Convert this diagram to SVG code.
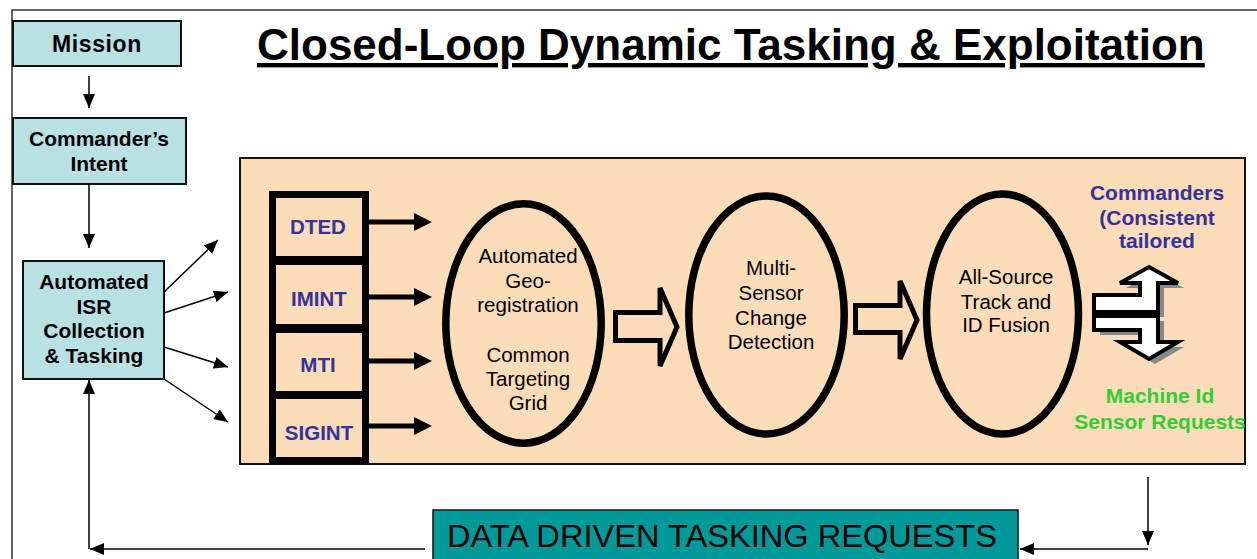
<svg xmlns="http://www.w3.org/2000/svg" width="1257" height="559" viewBox="0 0 1257 559">
<defs>
<style>
.frame{fill:none;stroke:#333;stroke-width:1.5}
.blue{fill:#b9e0e3;stroke:#111;stroke-width:2}
.lbl{font-family:"Liberation Sans",Arial,sans-serif;font-weight:bold;font-size:21px;fill:#000;text-anchor:middle}
.sens{fill:#fddcb9;stroke:#000;stroke-width:7}
.stxt{font-family:"Liberation Sans",Arial,sans-serif;font-weight:bold;font-size:20.5px;fill:#333399;text-anchor:middle}
.rtxt{font-family:"Liberation Sans",Arial,sans-serif;font-weight:bold;font-size:21px;text-anchor:middle}
.ell{fill:none;stroke:#000;stroke-width:7.5}
.etxt{font-family:"Liberation Sans",Arial,sans-serif;font-size:20.5px;fill:#000;text-anchor:middle}
.thin{fill:none;stroke:#000;stroke-width:1.5}
.thick{fill:none;stroke:#000;stroke-width:5}
.hollow{fill:#fddcb9;stroke:#000;stroke-width:5;stroke-linejoin:miter}
</style>
<marker id="ah" markerUnits="userSpaceOnUse" markerWidth="14" markerHeight="12" refX="14" refY="6" orient="auto">
<path d="M0,0 L14,6 L0,12 z" fill="#000"/>
</marker>
<marker id="bh" markerUnits="userSpaceOnUse" markerWidth="18" markerHeight="18" refX="0" refY="9" orient="auto">
<path d="M0,0 L18,9 L0,18 z" fill="#000"/>
</marker>
</defs>

<g id="frame">
<polyline class="frame" points="12,559 12,10 1257,10"/>
</g>

<g id="title">
<text x="257" y="60" font-family="Liberation Sans, Arial, sans-serif" font-weight="bold" font-size="44" text-decoration="underline" fill="#000">Closed-Loop Dynamic Tasking &amp; Exploitation</text>
</g>

<g id="mission">
<rect class="blue" x="13" y="21" width="168" height="45"/>
<text class="lbl" x="97" y="52" style="font-size:23px;letter-spacing:0.6px">Mission</text>
</g>

<g id="commanders-intent">
<rect class="blue" x="13" y="118" width="173" height="66"/>
<text class="lbl" x="99" y="146">Commander’s</text>
<text class="lbl" x="99" y="171">Intent</text>
</g>

<g id="isr">
<rect class="blue" x="23" y="261" width="141" height="118"/>
<text class="lbl" x="94" y="289">Automated</text>
<text class="lbl" x="94" y="314">ISR</text>
<text class="lbl" x="94" y="338">Collection</text>
<text class="lbl" x="94" y="363">&amp; Tasking</text>
</g>

<g id="processing-panel">
<rect x="240" y="158" width="1005" height="306" fill="#fddcb9" stroke="#111" stroke-width="2"/>
</g>

<g id="dted">
<rect class="sens" x="272.5" y="194.5" width="93" height="65"/>
<text class="stxt" x="318" y="234">DTED</text>
</g>
<g id="imint">
<rect class="sens" x="272.5" y="261.5" width="93" height="66"/>
<text class="stxt" x="319" y="306">IMINT</text>
</g>
<g id="mti">
<rect class="sens" x="272.5" y="329.5" width="93" height="65"/>
<text class="stxt" x="318" y="372">MTI</text>
</g>
<g id="sigint">
<rect class="sens" x="272.5" y="395.5" width="93" height="65"/>
<text class="stxt" x="319" y="440">SIGINT</text>
</g>

<g id="georegistration">
<ellipse class="ell" cx="523.5" cy="323.5" rx="77.7" ry="119.7"/>
<text class="etxt" x="528" y="263">Automated</text>
<text class="etxt" x="528" y="288">Geo-</text>
<text class="etxt" x="528" y="312">registration</text>
<text class="etxt" x="528" y="362">Common</text>
<text class="etxt" x="528" y="386">Targeting</text>
<text class="etxt" x="528" y="410">Grid</text>
</g>

<g id="change-detection">
<ellipse class="ell" cx="766.5" cy="315" rx="77.7" ry="119"/>
<text class="etxt" x="771" y="275">Multi-</text>
<text class="etxt" x="771" y="300">Sensor</text>
<text class="etxt" x="771" y="325">Change</text>
<text class="etxt" x="771" y="349">Detection</text>
</g>

<g id="fusion">
<ellipse class="ell" cx="1002.5" cy="314" rx="76" ry="120"/>
<text class="etxt" x="1006" y="284">All-Source</text>
<text class="etxt" x="1006" y="309">Track and</text>
<text class="etxt" x="1006" y="332">ID Fusion</text>
</g>

<g id="commanders-label">
<text class="rtxt" x="1157" y="200" fill="#333399">Commanders</text>
<text class="rtxt" x="1157" y="225" fill="#333399">(Consistent</text>
<text class="rtxt" x="1157" y="248" fill="#333399">tailored</text>
</g>

<g id="machine-label">
<text class="rtxt" x="1160" y="403" fill="#33cc33">Machine Id</text>
<text class="rtxt" x="1160" y="429" fill="#33cc33">Sensor Requests</text>
</g>

<g id="exchange-icon">
<g fill="#888" transform="translate(6,5)">
<polygon points="1094,295 1140,295 1140,283 1120,283 1149,267 1178,283 1158,283 1158,312 1094,312"/>
<polygon points="1094,316 1158,316 1158,342 1178,342 1149,359 1120,342 1140,342 1140,330 1094,330"/>
</g>
<g fill="#fff" stroke="#000" stroke-width="4" stroke-linejoin="miter">
<polygon points="1094,295 1140,295 1140,283 1120,283 1149,267 1178,283 1158,283 1158,312 1094,312"/>
<polygon points="1094,316 1158,316 1158,342 1178,342 1149,359 1120,342 1140,342 1140,330 1094,330"/>
</g>
</g>

<g id="tasking-requests">
<rect x="433" y="510" width="585" height="60" fill="#009999" stroke="#111" stroke-width="1.5"/>
<text x="722" y="547" font-family="Liberation Sans, Arial, sans-serif" font-size="32" fill="#000" text-anchor="middle" textLength="550" lengthAdjust="spacingAndGlyphs">DATA DRIVEN TASKING REQUESTS</text>
</g>

<g id="connectors">
<line class="thin" x1="89" y1="76" x2="89" y2="108" marker-end="url(#ah)"/>
<line class="thin" x1="89" y1="184" x2="89" y2="248" marker-end="url(#ah)"/>
<line class="thin" x1="164" y1="292" x2="218" y2="240" marker-end="url(#ah)"/>
<line class="thin" x1="164" y1="313" x2="228" y2="292" marker-end="url(#ah)"/>
<line class="thin" x1="164" y1="347" x2="228" y2="367" marker-end="url(#ah)"/>
<line class="thin" x1="164" y1="379" x2="228" y2="422" marker-end="url(#ah)"/>
<line class="thin" x1="89" y1="549" x2="89" y2="380" marker-end="url(#ah)"/>
<line class="thin" x1="425" y1="549" x2="90" y2="549" stroke-width="2.5" marker-end="url(#ah)"/>
<line class="thin" x1="1148" y1="477" x2="1148" y2="545" marker-end="url(#ah)"/>
<line class="thin" x1="1148" y1="549" x2="1020" y2="549" stroke-width="2.5" marker-end="url(#ah)"/>
<line class="thick" x1="368" y1="222" x2="414" y2="222" marker-end="url(#bh)"/>
<line class="thick" x1="368" y1="297" x2="414" y2="297" marker-end="url(#bh)"/>
<line class="thick" x1="368" y1="361" x2="414" y2="361" marker-end="url(#bh)"/>
<line class="thick" x1="368" y1="426" x2="414" y2="426" marker-end="url(#bh)"/>
<polygon class="hollow" points="615.5,312.5 660,312.5 660,288 677,327 660,366 660,340.5 615.5,340.5"/>
<polygon class="hollow" points="855.5,305.5 900,305.5 900,281 917,320 900,359 900,332.5 855.5,332.5"/>
</g>
</svg>
